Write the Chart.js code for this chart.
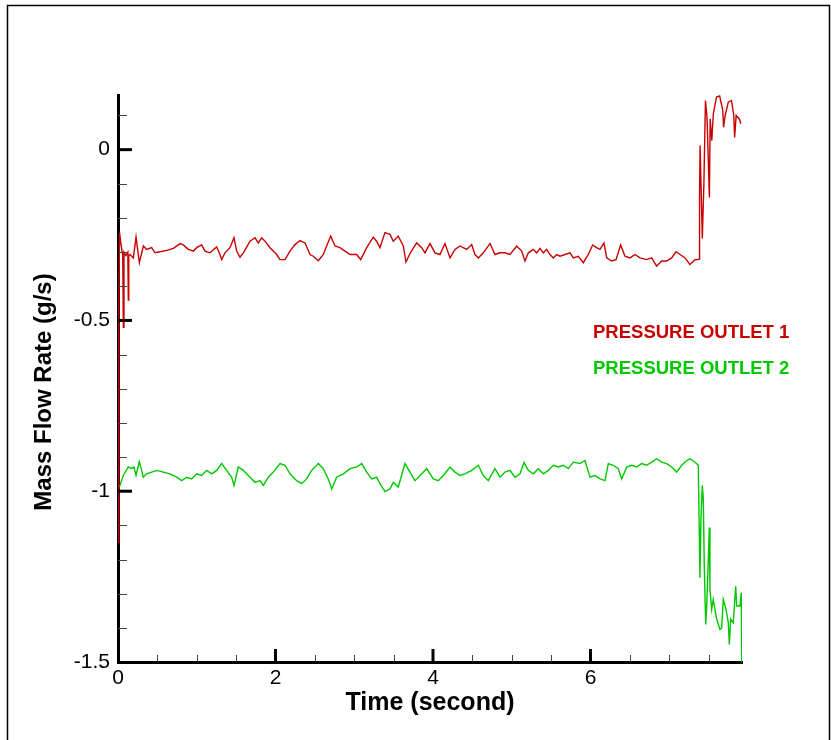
<!DOCTYPE html>
<html>
<head>
<meta charset="utf-8">
<script src="https://cdn.jsdelivr.net/npm/chart.js@4.4.1/dist/chart.umd.min.js"></script>
<style>
html,body{margin:0;padding:0;background:#fff;}
#wrap{width:831px;height:740px;position:relative;}
canvas{display:block;}
</style>
</head>
<body>
<div id="wrap"><canvas id="c" width="831" height="740"></canvas></div>
<script>
const seriesNames = ['PRESSURE OUTLET 1', 'PRESSURE OUTLET 2'];
const xTitle = 'Time (second)';
const yTitle = 'Mass Flow Rate (g/s)';
const xTicks = [0, 2, 4, 6];
const xTickLabels = ['0', '2', '4', '6'];
const yTicks = [0, -0.5, -1, -1.5];
const yTickLabels = ['0', '-0.5', '-1', '-1.5'];

const outlet1Time = [0, 0.01, 0.02, 0.04, 0.06, 0.068, 0.076, 0.10, 0.125, 0.131, 0.137, 0.152, 0.195, 0.229, 0.271, 0.322, 0.364, 0.428, 0.470, 0.533, 0.618, 0.703, 0.787, 0.830, 0.893, 0.957, 0.999, 1.062, 1.105, 1.168, 1.253, 1.295, 1.316, 1.359, 1.422, 1.473, 1.507, 1.549, 1.592, 1.676, 1.740, 1.782, 1.824, 1.867, 1.930, 2.015, 2.057, 2.121, 2.184, 2.248, 2.311, 2.375, 2.438, 2.480, 2.544, 2.607, 2.701, 2.756, 2.819, 2.883, 2.946, 3.031, 3.082, 3.158, 3.242, 3.284, 3.327, 3.390, 3.454, 3.496, 3.559, 3.623, 3.657, 3.708, 3.793, 3.856, 3.898, 3.962, 4.025, 4.089, 4.152, 4.216, 4.279, 4.343, 4.428, 4.491, 4.533, 4.576, 4.639, 4.724, 4.787, 4.851, 4.914, 4.978, 5.063, 5.126, 5.168, 5.211, 5.274, 5.316, 5.359, 5.401, 5.443, 5.486, 5.528, 5.570, 5.613, 5.676, 5.740, 5.782, 5.845, 5.909, 5.972, 6.028, 6.078, 6.121, 6.171, 6.206, 6.269, 6.324, 6.383, 6.438, 6.502, 6.565, 6.629, 6.713, 6.777, 6.840, 6.904, 6.967, 7.031, 7.086, 7.137, 7.200, 7.263, 7.327, 7.369, 7.378, 7.385, 7.392, 7.42, 7.44, 7.46, 7.48, 7.51, 7.52, 7.54, 7.56, 7.60, 7.64, 7.68, 7.69, 7.71, 7.75, 7.79, 7.82, 7.83, 7.85, 7.89, 7.91];
const outlet1Flow = [-1.15, -0.45, -0.243, -0.28, -0.31, -0.52, -0.30, -0.31, -0.30, -0.44, -0.31, -0.307, -0.317, -0.256, -0.331, -0.282, -0.292, -0.287, -0.302, -0.299, -0.295, -0.289, -0.275, -0.279, -0.292, -0.297, -0.287, -0.279, -0.297, -0.302, -0.285, -0.307, -0.322, -0.302, -0.287, -0.258, -0.297, -0.315, -0.302, -0.268, -0.258, -0.273, -0.258, -0.268, -0.287, -0.307, -0.322, -0.322, -0.297, -0.278, -0.266, -0.273, -0.307, -0.312, -0.325, -0.307, -0.253, -0.282, -0.287, -0.297, -0.307, -0.307, -0.322, -0.287, -0.256, -0.268, -0.287, -0.243, -0.248, -0.268, -0.253, -0.282, -0.329, -0.304, -0.273, -0.287, -0.302, -0.275, -0.302, -0.307, -0.275, -0.317, -0.292, -0.282, -0.292, -0.278, -0.307, -0.317, -0.302, -0.275, -0.307, -0.302, -0.302, -0.307, -0.282, -0.297, -0.326, -0.302, -0.292, -0.302, -0.289, -0.302, -0.292, -0.307, -0.317, -0.307, -0.312, -0.307, -0.302, -0.317, -0.312, -0.331, -0.307, -0.279, -0.287, -0.292, -0.273, -0.317, -0.326, -0.322, -0.279, -0.312, -0.317, -0.307, -0.317, -0.322, -0.317, -0.341, -0.326, -0.326, -0.317, -0.299, -0.307, -0.317, -0.336, -0.322, -0.322, -0.32, -0.13, 0.012, -0.26, -0.10, 0.144, 0.094, -0.14, 0.09, 0.026, 0.105, 0.154, 0.157, 0.115, 0.066, 0.10, 0.139, 0.144, 0.10, 0.036, 0.10, 0.09, 0.076];

const outlet2Time = [0, 0.025, 0.067, 0.131, 0.174, 0.203, 0.229, 0.270, 0.301, 0.321, 0.364, 0.428, 0.491, 0.575, 0.660, 0.745, 0.809, 0.872, 0.936, 0.999, 1.063, 1.126, 1.190, 1.253, 1.317, 1.380, 1.444, 1.473, 1.528, 1.591, 1.676, 1.740, 1.803, 1.845, 1.909, 1.972, 2.057, 2.121, 2.184, 2.269, 2.333, 2.396, 2.460, 2.544, 2.607, 2.670, 2.714, 2.777, 2.861, 2.946, 3.031, 3.095, 3.158, 3.222, 3.285, 3.327, 3.390, 3.454, 3.496, 3.559, 3.581, 3.644, 3.708, 3.771, 3.835, 3.920, 4.004, 4.067, 4.131, 4.216, 4.279, 4.343, 4.406, 4.491, 4.575, 4.639, 4.702, 4.787, 4.851, 4.914, 4.978, 5.041, 5.105, 5.156, 5.210, 5.274, 5.337, 5.401, 5.464, 5.528, 5.591, 5.655, 5.718, 5.782, 5.867, 5.930, 5.994, 6.057, 6.121, 6.184, 6.226, 6.290, 6.353, 6.396, 6.460, 6.523, 6.587, 6.650, 6.713, 6.777, 6.840, 6.904, 6.967, 7.031, 7.094, 7.158, 7.222, 7.263, 7.327, 7.369, 7.381, 7.390, 7.403, 7.420, 7.433, 7.445, 7.463, 7.476, 7.496, 7.509, 7.517, 7.539, 7.559, 7.603, 7.644, 7.666, 7.686, 7.721, 7.750, 7.763, 7.780, 7.813, 7.844, 7.857, 7.898, 7.915, 7.920];
const outlet2Flow = [-0.99, -0.983, -0.954, -0.929, -0.934, -0.929, -0.954, -0.913, -0.939, -0.959, -0.949, -0.944, -0.939, -0.944, -0.949, -0.959, -0.969, -0.959, -0.964, -0.949, -0.954, -0.939, -0.949, -0.939, -0.919, -0.939, -0.959, -0.983, -0.929, -0.939, -0.959, -0.974, -0.969, -0.983, -0.959, -0.944, -0.919, -0.924, -0.949, -0.969, -0.978, -0.964, -0.939, -0.919, -0.934, -0.964, -0.993, -0.959, -0.949, -0.934, -0.929, -0.919, -0.944, -0.964, -0.959, -0.978, -1.001, -0.993, -0.974, -0.988, -0.970, -0.919, -0.944, -0.969, -0.954, -0.934, -0.964, -0.969, -0.954, -0.929, -0.944, -0.954, -0.949, -0.939, -0.924, -0.954, -0.969, -0.934, -0.959, -0.944, -0.939, -0.959, -0.949, -0.916, -0.939, -0.949, -0.934, -0.949, -0.939, -0.924, -0.929, -0.924, -0.934, -0.915, -0.919, -0.910, -0.959, -0.954, -0.964, -0.969, -0.919, -0.924, -0.934, -0.964, -0.929, -0.924, -0.929, -0.919, -0.924, -0.915, -0.905, -0.915, -0.919, -0.929, -0.944, -0.924, -0.910, -0.905, -0.915, -0.924, -1.111, -1.253, -1.081, -0.983, -1.023, -1.219, -1.390, -1.336, -1.199, -1.106, -1.287, -1.346, -1.317, -1.375, -1.405, -1.400, -1.317, -1.346, -1.385, -1.449, -1.375, -1.385, -1.278, -1.336, -1.336, -1.297, -1.5];

const FONT = '"Liberation Sans", Arial, Helvetica, sans-serif';
const RED = 'rgb(200,0,0)';
const GREEN = 'rgb(0,200,0)';
const seriesColors = [RED, GREEN];

const toPoints = (xs, ys) => xs.map((x, i) => ({x: x, y: ys[i]}));

const decorPlugin = {
  id: 'decor',
  beforeDraw(chart) {
    const ctx = chart.ctx;
    ctx.save();
    ctx.fillStyle = '#fff';
    ctx.fillRect(0, 0, chart.width, chart.height);
    ctx.strokeStyle = '#000';
    ctx.lineWidth = 1.5;
    ctx.beginPath();
    ctx.moveTo(7.5, 745);
    ctx.lineTo(7.5, 5.5);
    ctx.lineTo(829.5, 5.5);
    ctx.lineTo(829.5, 745);
    ctx.stroke();
    ctx.restore();
  },
  afterDraw(chart) {
    const ctx = chart.ctx;
    const xs = chart.scales.x, ys = chart.scales.y;
    const left = chart.chartArea.left, bottom = chart.chartArea.bottom;
    ctx.save();
    // minor ticks
    ctx.strokeStyle = '#444';
    ctx.lineWidth = 1;
    for (let k = -15; k <= 1; k++) {
      if (k % 5 === 0) continue;
      const y = Math.round(ys.getPixelForValue(k / 10)) + 0.5;
      ctx.beginPath(); ctx.moveTo(left, y); ctx.lineTo(left + 9, y); ctx.stroke();
    }
    for (let k = 1; k <= 15; k++) {
      if (k % 4 === 0) continue;
      const x = Math.round(xs.getPixelForValue(k / 2)) + 0.5;
      ctx.beginPath(); ctx.moveTo(x, bottom); ctx.lineTo(x, bottom - 7); ctx.stroke();
    }
    // major ticks
    ctx.strokeStyle = '#000';
    ctx.lineWidth = 3;
    yTicks.forEach(v => {
      if (v === -1.5) return;
      const y = ys.getPixelForValue(v);
      ctx.beginPath(); ctx.moveTo(left, y); ctx.lineTo(left + 14, y); ctx.stroke();
    });
    xTicks.forEach(v => {
      if (v === 0) return;
      const x = xs.getPixelForValue(v);
      ctx.beginPath(); ctx.moveTo(x, bottom); ctx.lineTo(x, bottom - 13); ctx.stroke();
    });
    // axis titles
    ctx.fillStyle = '#000';
    ctx.textAlign = 'center';
    ctx.textBaseline = 'alphabetic';
    ctx.font = 'bold 25px ' + FONT;
    ctx.fillText(xTitle, (chart.chartArea.left + chart.chartArea.right) / 2, 710);
    ctx.save();
    ctx.translate(51, 392);
    ctx.rotate(-Math.PI / 2);
    ctx.font = 'bold 24px ' + FONT;
    ctx.fillText(yTitle, 0, 0);
    ctx.restore();
    // legend text
    ctx.textAlign = 'left';
    ctx.font = 'bold 18.5px ' + FONT;
    const baselines = [338, 374];
    seriesNames.forEach((n, i) => {
      ctx.fillStyle = seriesColors[i];
      ctx.fillText(n, 593, baselines[i]);
    });
    ctx.restore();
  }
};

new Chart(document.getElementById('c'), {
  type: 'scatter',
  data: {
    datasets: [
      {label: seriesNames[0], data: toPoints(outlet1Time, outlet1Flow), showLine: true, borderColor: RED, borderWidth: 1.4, pointRadius: 0, tension: 0},
      {label: seriesNames[1], data: toPoints(outlet2Time, outlet2Flow), showLine: true, borderColor: GREEN, borderWidth: 1.4, pointRadius: 0, tension: 0}
    ]
  },
  options: {
    responsive: false,
    animation: false,
    devicePixelRatio: 1,
    layout: {padding: {left: 0, right: 89, top: 95, bottom: 0}},
    plugins: {legend: {display: false}, tooltip: {enabled: false}},
    scales: {
      x: {
        type: 'linear', position: 'bottom', min: 0, max: 7.924,
        afterFit: s => { s.height = 78; },
        afterBuildTicks: s => { s.ticks = xTicks.map(v => ({value: v})); },
        grid: {display: true, drawOnChartArea: false, drawTicks: false},
        border: {display: true, color: '#000', width: 3},
        ticks: {color: '#000', font: {family: FONT, size: 21}, padding: 4, maxRotation: 0,
          callback: (v) => xTickLabels[xTicks.indexOf(v)] ?? ''}
      },
      y: {
        type: 'linear', position: 'left', min: -1.5, max: 0.16,
        afterFit: s => { s.width = 118; },
        afterBuildTicks: s => { s.ticks = yTicks.map(v => ({value: v})); },
        grid: {display: true, drawOnChartArea: false, drawTicks: false},
        border: {display: true, color: '#000', width: 3},
        ticks: {color: '#000', font: {family: FONT, size: 21}, padding: 8,
          callback: (v) => yTickLabels[yTicks.indexOf(v)] ?? ''}
      }
    }
  },
  plugins: [decorPlugin]
});
</script>
</body>
</html>
